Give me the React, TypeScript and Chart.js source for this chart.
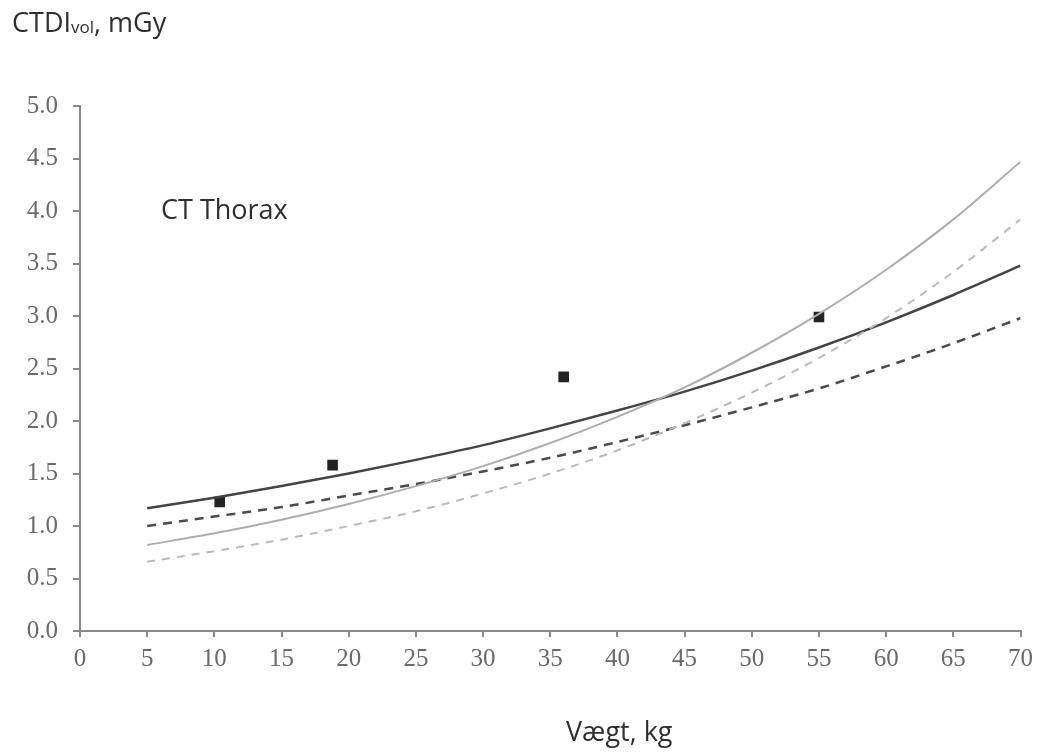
import React, { useEffect, useRef } from "react";
import { Chart, registerables } from "chart.js";

Chart.register(...registerables);

const weights = [5, 10, 15, 20, 25, 30, 35, 40, 45, 50, 55, 60, 65, 70];
const darkSolid = [1.17, 1.27, 1.38, 1.5, 1.63, 1.77, 1.93, 2.1, 2.28, 2.48, 2.7, 2.94, 3.2, 3.48];
const darkDashed = [1.0, 1.09, 1.18, 1.29, 1.4, 1.52, 1.65, 1.8, 1.96, 2.13, 2.31, 2.52, 2.74, 2.98];
const lightSolid = [0.82, 0.93, 1.06, 1.21, 1.38, 1.57, 1.79, 2.04, 2.32, 2.65, 3.02, 3.44, 3.92, 4.47];
const lightDashed = [0.66, 0.76, 0.87, 1.0, 1.14, 1.31, 1.5, 1.72, 1.98, 2.27, 2.6, 2.98, 3.42, 3.92];

const measuredWeights = [10.4, 18.8, 36.0, 55.0];
const measuredDose = [1.23, 1.58, 2.42, 2.99];

const yTitleMain = "CTDI";
const yTitleSub = "vol";
const yTitleRest = ", mGy";
const xTitle = "Vægt, kg";
const panelLabel = "CT Thorax";

const toXY = (xs: number[], ys: number[]) => xs.map((x, i) => ({ x, y: ys[i] }));

const SANS = "'Open Sans', 'Noto Sans', sans-serif";
const SERIF = "'Liberation Serif', 'DejaVu Serif', serif";

const textPlugin = {
  id: "texts",
  afterDraw(chart: any) {
    const ctx = chart.ctx;
    ctx.save();
    ctx.fillStyle = "#2e2e2e";
    ctx.textBaseline = "alphabetic";
    ctx.textAlign = "left";
    ctx.font = `27px ${SANS}`;
    let x = 12;
    ctx.fillText(yTitleMain, x, 32);
    x += ctx.measureText(yTitleMain).width;
    ctx.font = `17px ${SANS}`;
    ctx.fillText(yTitleSub, x, 33);
    x += ctx.measureText(yTitleSub).width;
    ctx.font = `27px ${SANS}`;
    ctx.fillText(yTitleRest, x, 32);

    ctx.font = `27px ${SANS}`;
    ctx.fillText(panelLabel, 161, 219);

    ctx.fillText(xTitle, 566, 741);
    ctx.restore();
  },
};

export default function App() {
  const ref = useRef<HTMLCanvasElement | null>(null);

  useEffect(() => {
    if (!ref.current) return;
    const common = {
      showLine: true,
      pointRadius: 0,
      pointHoverRadius: 0,
      cubicInterpolationMode: "monotone" as const,
      fill: false,
    };
    const chart = new Chart(ref.current, {
      type: "scatter",
      data: {
        datasets: [
          {
            ...common,
            label: "light dashed",
            data: toXY(weights, lightDashed),
            borderColor: "#b9b9b9",
            borderWidth: 2,
            borderDash: [8, 7],
          },
          {
            ...common,
            label: "light solid",
            data: toXY(weights, lightSolid),
            borderColor: "#adadad",
            borderWidth: 2,
          },
          {
            ...common,
            label: "dark dashed",
            data: toXY(weights, darkDashed),
            borderColor: "#4a4a4a",
            borderWidth: 2.5,
            borderDash: [9, 7],
          },
          {
            ...common,
            label: "dark solid",
            data: toXY(weights, darkSolid),
            borderColor: "#444444",
            borderWidth: 2.5,
          },
          {
            label: "measured",
            data: toXY(measuredWeights, measuredDose),
            showLine: false,
            pointStyle: "rect",
            pointRadius: 7.5,
            backgroundColor: "#222222",
            borderColor: "#222222",
            borderWidth: 0,
          },
        ],
      },
      options: {
        animation: false,
        responsive: false,
        maintainAspectRatio: false,
        layout: { padding: { top: 106, right: 18, left: 0, bottom: 0 } },
        plugins: {
          legend: { display: false },
          tooltip: { enabled: false },
          title: { display: false },
        },
        scales: {
          x: {
            type: "linear",
            min: 0,
            max: 70,
            afterFit: (s: any) => {
              s.height = 122;
            },
            ticks: {
              stepSize: 5,
              color: "#6a6a6a",
              font: { family: SERIF, size: 25 },
              padding: 7,
            },
            grid: {
              drawOnChartArea: false,
              drawTicks: true,
              tickLength: 6,
              color: "#8a8a8a",
              lineWidth: 2,
            },
            border: { display: true, color: "#8a8a8a", width: 2 },
          },
          y: {
            type: "linear",
            min: 0,
            max: 5,
            afterFit: (s: any) => {
              s.width = 80;
            },
            ticks: {
              stepSize: 0.5,
              color: "#6a6a6a",
              font: { family: SERIF, size: 25 },
              padding: 15,
              callback: (v: any) => Number(v).toFixed(1),
            },
            grid: {
              drawOnChartArea: false,
              drawTicks: true,
              tickLength: 7,
              color: "#8a8a8a",
              lineWidth: 2,
            },
            border: { display: true, color: "#8a8a8a", width: 2 },
          },
        },
      },
      plugins: [textPlugin],
    });
    return () => chart.destroy();
  }, []);

  return (
    <div style={{ position: "fixed", left: 0, top: 0, width: 1040, height: 753, background: "#fff" }}>
      <canvas ref={ref} width={1040} height={753} style={{ width: 1040, height: 753, display: "block" }} />
    </div>
  );
}
